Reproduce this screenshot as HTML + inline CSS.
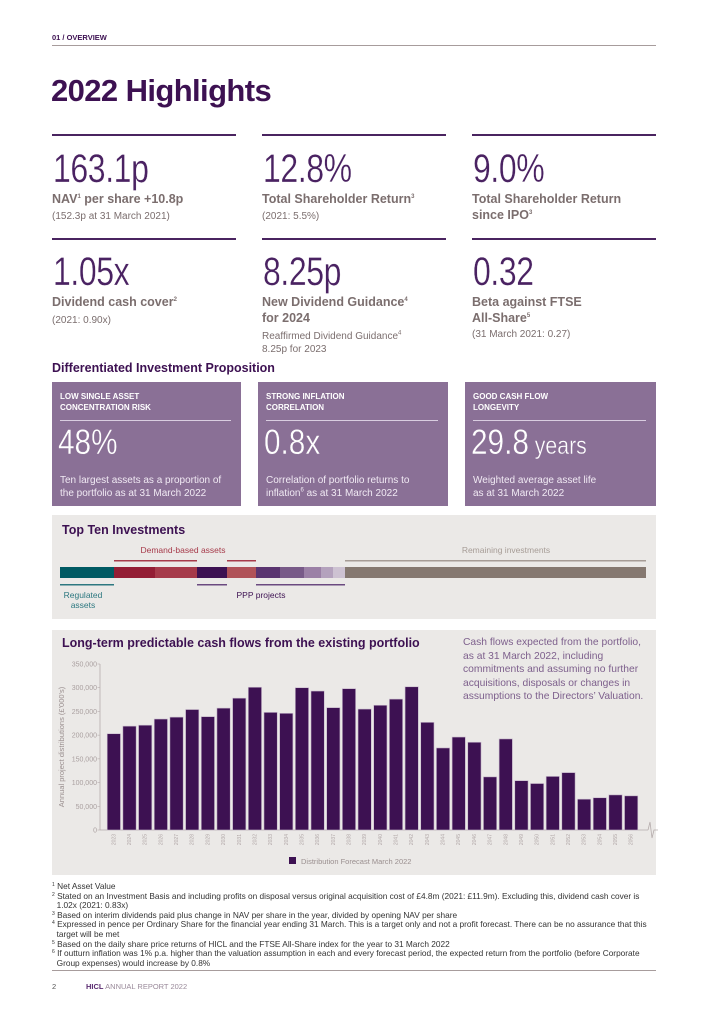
<!DOCTYPE html>
<html><head><meta charset="utf-8">
<style>
*{margin:0;padding:0;box-sizing:border-box}
body{width:724px;height:1024px;background:#fff;font-family:"Liberation Sans",sans-serif;position:relative;overflow:hidden}
sup{line-height:0;font-size:6px}
.a{position:absolute}
.rule{position:absolute;height:2px;background:#4a2460}
.big{position:absolute;font-size:40px;font-weight:300;color:#4a2262;letter-spacing:-0.5px;line-height:1;transform:scaleX(0.8);transform-origin:0 0;-webkit-text-stroke:0.3px #fff}
.lab{position:absolute;font-size:12.5px;font-weight:bold;color:#7b6e6e;line-height:16px}
.sub{position:absolute;font-size:10px;color:#7b6e6e;line-height:13px}
.box{position:absolute;top:382px;height:124px;background:#8a7096;color:#fff}
.box .h{position:absolute;left:8px;top:9px;font-size:8px;font-weight:bold;line-height:11px}
.box .r{position:absolute;left:8px;right:10px;top:38px;height:1px;background:#d9cde0}
.box .n{position:absolute;left:6px;top:43px;font-size:35px;line-height:1;transform:scaleX(0.85);transform-origin:0 0;-webkit-text-stroke:0.4px #8a7096}
.box .t{position:absolute;left:8px;top:92px;font-size:10px;line-height:13px;color:#f1eaf4}
.foot{font-size:8.3px;color:#333;line-height:9.6px}
.foot sup{font-size:5px;vertical-align:baseline;position:relative;top:-3px}
</style></head><body>
<div class="a" style="left:52px;top:33px;font-size:7.5px;font-weight:bold;color:#3d1152">01 / OVERVIEW</div>
<div class="a" style="left:52px;top:45px;width:604px;height:1px;background:#a79c9c"></div>
<div class="a" style="left:51px;top:73px;font-size:31px;font-weight:bold;color:#3d1152;letter-spacing:-0.6px">2022 Highlights</div>

<div class="rule" style="left:52px;top:134px;width:184px"></div>
<div class="rule" style="left:262px;top:134px;width:184px"></div>
<div class="rule" style="left:472px;top:134px;width:184px"></div>
<div class="big" style="left:53px;top:149px">163.1p</div>
<div class="big" style="left:263px;top:149px">12.8%</div>
<div class="big" style="left:473px;top:149px">9.0%</div>
<div class="lab" style="left:52px;top:191px">NAV<sup>1</sup> per share +10.8p</div>
<div class="sub" style="left:52px;top:210px">(152.3p at 31 March 2021)</div>
<div class="lab" style="left:262px;top:191px">Total Shareholder Return<sup>3</sup></div>
<div class="sub" style="left:262px;top:210px">(2021: 5.5%)</div>
<div class="lab" style="left:472px;top:191px">Total Shareholder Return<br>since IPO<sup>3</sup></div>

<div class="rule" style="left:52px;top:238px;width:184px"></div>
<div class="rule" style="left:262px;top:238px;width:184px"></div>
<div class="rule" style="left:472px;top:238px;width:184px"></div>
<div class="big" style="left:53px;top:252px">1.05x</div>
<div class="big" style="left:263px;top:252px">8.25p</div>
<div class="big" style="left:473px;top:252px">0.32</div>
<div class="lab" style="left:52px;top:294px">Dividend cash cover<sup>2</sup></div>
<div class="sub" style="left:52px;top:314px">(2021: 0.90x)</div>
<div class="lab" style="left:262px;top:294px">New Dividend Guidance<sup>4</sup><br>for 2024</div>
<div class="sub" style="left:262px;top:330px">Reaffirmed Dividend Guidance<sup>4</sup><br>8.25p for 2023</div>
<div class="lab" style="left:472px;top:294px">Beta against FTSE<br>All-Share<sup>5</sup></div>
<div class="sub" style="left:472px;top:328px">(31 March 2021: 0.27)</div>

<div class="a" style="left:52px;top:361px;font-size:12.5px;font-weight:bold;color:#3d1152">Differentiated Investment Proposition</div>
<div class="box" style="left:52px;width:189px"><div class="h">LOW SINGLE ASSET<br>CONCENTRATION RISK</div><div class="r"></div><div class="n">48%</div><div class="t">Ten largest assets as a proportion of<br>the portfolio as at 31 March 2022</div></div>
<div class="box" style="left:258px;width:190px"><div class="h">STRONG INFLATION<br>CORRELATION</div><div class="r"></div><div class="n">0.8x</div><div class="t">Correlation of portfolio returns to<br>inflation<sup>6</sup> as at 31 March 2022</div></div>
<div class="box" style="left:465px;width:191px"><div class="h">GOOD CASH FLOW<br>LONGEVITY</div><div class="r"></div><div class="n">29.8<span style="font-size:25px"> years</span></div><div class="t">Weighted average asset life<br>as at 31 March 2022</div></div>

<div class="a" style="left:52px;top:515px;width:604px;height:104px;background:#ebe9e7"></div>
<div class="a" style="left:62px;top:523px;font-size:12.5px;font-weight:bold;color:#3d1152">Top Ten Investments</div>
<svg class="a" style="left:0;top:0" width="724" height="1024">
<rect x="60" y="567" width="54" height="11" fill="#005a63"/>
<rect x="114" y="567" width="41" height="11" fill="#931d34"/>
<rect x="155" y="567" width="42" height="11" fill="#a63a4a"/>
<rect x="197" y="567" width="30" height="11" fill="#3d1152"/>
<rect x="227" y="567" width="29" height="11" fill="#b05258"/>
<rect x="256" y="567" width="24" height="11" fill="#5a3470"/>
<rect x="280" y="567" width="24" height="11" fill="#785a88"/>
<rect x="304" y="567" width="17" height="11" fill="#9b80a6"/>
<rect x="321" y="567" width="12" height="11" fill="#b4a2bd"/>
<rect x="333" y="567" width="12" height="11" fill="#cdc2d2"/>
<rect x="345" y="567" width="301" height="11" fill="#857870"/>
<rect x="114" y="560" width="83" height="1.5" fill="#a63a4a"/>
<rect x="227" y="560" width="29" height="1.5" fill="#a63a4a"/>
<rect x="345" y="560" width="301" height="1.5" fill="#a69c96"/>
<rect x="60" y="584" width="54" height="1.5" fill="#2d7880"/>
<rect x="197" y="584" width="30" height="1.5" fill="#6b4a80"/>
<rect x="256" y="584" width="89" height="1.5" fill="#6b4a80"/>
<text x="183" y="553" font-size="8.5" fill="#a63a4a" text-anchor="middle" font-family="Liberation Sans">Demand-based assets</text>
<text x="506" y="553" font-size="8.5" fill="#a69c96" text-anchor="middle" font-family="Liberation Sans">Remaining investments</text>
<text x="83" y="598" font-size="8.5" fill="#2d7880" text-anchor="middle" font-family="Liberation Sans">Regulated</text>
<text x="83" y="608" font-size="8.5" fill="#2d7880" text-anchor="middle" font-family="Liberation Sans">assets</text>
<text x="261" y="598" font-size="8.5" fill="#3d1152" text-anchor="middle" font-family="Liberation Sans">PPP projects</text>
</svg>

<div class="a" style="left:52px;top:630px;width:604px;height:245px;background:#ebe9e7"></div>
<div class="a" style="left:62px;top:636px;font-size:12.5px;font-weight:bold;color:#3d1152">Long-term predictable cash flows from the existing portfolio</div>
<div class="a" style="left:463px;top:636px;font-size:10.3px;color:#7d5f8c;line-height:13.6px">Cash flows expected from the portfolio,<br>as at 31 March 2022, including<br>commitments and assuming no further<br>acquisitions, disposals or changes in<br>assumptions to the Directors’ Valuation.</div>
<svg id="chart" class="a" style="left:0;top:0" width="724" height="1024"></svg>

<div class="a foot" style="left:52px;top:882px;width:612px">
<div><sup>1</sup> Net Asset Value</div>
<div><sup>2</sup> Stated on an Investment Basis and including profits on disposal versus original acquisition cost of £4.8m (2021: £11.9m). Excluding this, dividend cash cover is<br>&nbsp;&nbsp;1.02x (2021: 0.83x)</div>
<div><sup>3</sup> Based on interim dividends paid plus change in NAV per share in the year, divided by opening NAV per share</div>
<div><sup>4</sup> Expressed in pence per Ordinary Share for the financial year ending 31 March. This is a target only and not a profit forecast. There can be no assurance that this<br>&nbsp;&nbsp;target will be met</div>
<div><sup>5</sup> Based on the daily share price returns of HICL and the FTSE All-Share index for the year to 31 March 2022</div>
<div><sup>6</sup> If outturn inflation was 1% p.a. higher than the valuation assumption in each and every forecast period, the expected return from the portfolio (before Corporate<br>&nbsp;&nbsp;Group expenses) would increase by 0.8%</div>
</div>
<div class="a" style="left:52px;top:970px;width:604px;height:1px;background:#a79c9c"></div>
<div class="a" style="left:52px;top:982px;font-size:7.5px;color:#555">2</div>
<div class="a" style="left:86px;top:982px;font-size:7.5px;color:#9a8a9a"><b style="color:#5a2a70">HICL</b> ANNUAL REPORT 2022</div>

<script>
const years = [2023,2024,2025,2026,2027,2028,2029,2030,2031,2032,2033,2034,2035,2036,2037,2038,2039,2040,2041,2042,2043,2044,2045,2046,2047,2048,2049,2050,2051,2052,2053,2054,2055,2056];
const distributions = [203,219,221,234,238,254,239,257,278,301,248,246,300,293,258,298,255,263,276,302,227,173,196,185,112,192,104,98,113,121,65,68,74,72];
const yTicks = [0,50000,100000,150000,200000,250000,300000,350000];
const yTickLabels = ["0","50,000","100,000","150,000","200,000","250,000","300,000","350,000"];
const NS='http://www.w3.org/2000/svg';
const svg=document.getElementById('chart');
const y0=830, yTop=664, xL=106, xR=639;
const y=v=>y0-(v/350000)*(y0-yTop);
const step=(xR-xL)/years.length;
const x=i=>xL+i*step;
function mk(t,a){const e=document.createElementNS(NS,t);for(const k in a)e.setAttribute(k,a[k]);svg.appendChild(e);return e;}
let ax=mk('line',{x1:100,y1:yTop,x2:100,y2:y0,stroke:'#b5acac','stroke-width':0.8});


let bx=mk('line',{x1:100,y1:y0,x2:648,y2:y0,stroke:'#b5acac','stroke-width':0.8});


let br=mk('path',{d:'M648 830 l2 -8 l2 16 l2 -8 l4 0',fill:'none',stroke:'#b5acac','stroke-width':0.8});


yTicks.forEach((v,i)=>{
  const t=mk('text',{x:97,y:y(v)+2.5,'font-size':7,fill:'#aaa0a0','text-anchor':'end','font-family':'Liberation Sans'});
  t.textContent=yTickLabels[i];
  
  
  mk('line',{x1:97.5,y1:y(v),x2:100,y2:y(v),stroke:'#b5acac','stroke-width':0.6});
});
const yt=mk('text',{x:0,y:0,'font-size':7.5,fill:'#9a8f8f','text-anchor':'middle','font-family':'Liberation Sans',transform:'translate(64,747) rotate(-90)'});
yt.textContent="Annual project distributions (£'000's)";


distributions.forEach((d,i)=>{
  const r=mk('rect',{x:x(i)+1.2,y:y(d*1000),width:step-2.4,height:y0-y(d*1000),fill:'#3d1152',stroke:'#c8b9cc','stroke-width':0.6});
  
  
  const cx=x(i)+step/2;
  const t=mk('text',{x:0,y:0,'font-size':5,fill:'#b0a6a6','text-anchor':'end','font-family':'Liberation Sans',transform:`translate(${cx+1.5},${y0+4}) rotate(-90)`});
  t.textContent=years[i];
  
  
});
const ls=mk('rect',{x:289,y:857,width:7,height:7,fill:'#3d1152'});


const lt=mk('text',{x:301,y:864,'font-size':7.5,fill:'#9a8f8f','font-family':'Liberation Sans'});
lt.textContent='Distribution Forecast March 2022';


</script>
</body></html>
